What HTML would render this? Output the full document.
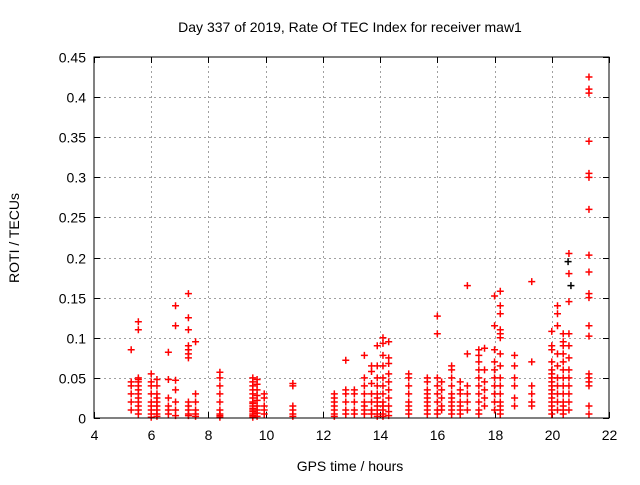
<!DOCTYPE html>
<html><head><meta charset="utf-8"><style>
body{margin:0;background:#fff}
svg text{font-family:"Liberation Sans",sans-serif;font-size:14px;fill:#000}
</style></head><body>
<svg id="chart" width="640" height="480" xmlns="http://www.w3.org/2000/svg">
<rect width="640" height="480" fill="#fff"/>
<text x="350" y="32" text-anchor="middle">Day 337 of 2019, Rate Of TEC Index for receiver maw1</text>
<text x="350" y="471" text-anchor="middle">GPS time / hours</text>
<text transform="translate(19,238) rotate(-90)" text-anchor="middle">ROTI / TECUs</text>
<g id="grid"></g><g id="ticks"></g><g id="marks"></g>
<rect x="94" y="57" width="515" height="361" fill="none" stroke="#000" stroke-width="1"/>
</svg>
<script>
const xTicks=[4,6,8,10,12,14,16,18,20,22];
const yTicks=[0,0.05,0.1,0.15,0.2,0.25,0.3,0.35,0.4,0.45];
const yTickLabels=["0","0.05","0.1","0.15","0.2","0.25","0.3","0.35","0.4","0.45"];
const columnTimes=[5.3,5.55,6.0,6.2,6.6,6.85,7.3,7.55,8.4,9.55,9.7,9.95,10.95,12.4,12.8,13.1,13.45,13.7,13.9,14.1,14.3,15.0,15.65,16.0,16.15,16.5,16.8,17.05,17.45,17.65,18.0,18.2,18.7,19.3,20.0,20.2,20.4,20.6,21.3];
const columnRoti=[
[0.085,0.04,0.03,0.02,0.01,0.045],
[0.12,0.11,0.05,0.045,0.04,0.035,0.03,0.025,0.02,0.015,0.01,0.005,0.048],
[0.055,0.045,0.04,0.03,0.02,0.015,0.01,0.005,0.001],
[0.048,0.04,0.03,0.025,0.02,0.015,0.01,0.005,0.002],
[0.082,0.048,0.025,0.015,0.01,0.005],
[0.14,0.115,0.047,0.035,0.02,0.01,0.003],
[0.155,0.125,0.11,0.09,0.085,0.08,0.075,0.02,0.015,0.01,0.005,0.003],
[0.095,0.03,0.02,0.01,0.005,0.002],
[0.057,0.05,0.04,0.03,0.02,0.01,0.005,0.003,0.001],
[0.05,0.045,0.04,0.035,0.03,0.025,0.02,0.018,0.015,0.012,0.01,0.008,0.005,0.003,0.001],
[0.048,0.042,0.035,0.028,0.022,0.015,0.01,0.006,0.002],
[0.03,0.025,0.015,0.01,0.005],
[0.043,0.04,0.015,0.01,0.005,0.002],
[0.03,0.025,0.02,0.015,0.01,0.005,0.002],
[0.072,0.035,0.03,0.02,0.01,0.005],
[0.035,0.03,0.02,0.01,0.005],
[0.078,0.05,0.04,0.03,0.02,0.015,0.01,0.005],
[0.065,0.058,0.043,0.03,0.02,0.01,0.005],
[0.09,0.065,0.05,0.04,0.03,0.025,0.02,0.015,0.01,0.005,0.002],
[0.1,0.093,0.078,0.065,0.05,0.04,0.03,0.02,0.015,0.01,0.005,0.002],
[0.095,0.075,0.068,0.055,0.045,0.035,0.025,0.015,0.008,0.003],
[0.055,0.05,0.04,0.03,0.02,0.015,0.01,0.005],
[0.05,0.045,0.035,0.03,0.025,0.02,0.015,0.01,0.005],
[0.127,0.105,0.05,0.04,0.03,0.02,0.01,0.005],
[0.045,0.035,0.025,0.015,0.01],
[0.065,0.06,0.05,0.04,0.03,0.025,0.02,0.015,0.01,0.005],
[0.045,0.035,0.03,0.02,0.015,0.01,0.005],
[0.165,0.08,0.04,0.03,0.02,0.01],
[0.085,0.078,0.07,0.06,0.05,0.04,0.03,0.02,0.01,0.005],
[0.087,0.06,0.045,0.035,0.025,0.015],
[0.152,0.115,0.085,0.07,0.06,0.05,0.04,0.03,0.02,0.01],
[0.158,0.14,0.13,0.11,0.105,0.1,0.08,0.065,0.05,0.04,0.03,0.02,0.015,0.01,0.005],
[0.078,0.065,0.05,0.04,0.025,0.015],
[0.17,0.07,0.04,0.03,0.02,0.015],
[0.108,0.09,0.085,0.07,0.06,0.055,0.05,0.045,0.04,0.035,0.03,0.025,0.02,0.015,0.01,0.005],
[0.14,0.13,0.115,0.08,0.065,0.05,0.04,0.03,0.02,0.01],
[0.105,0.095,0.09,0.08,0.07,0.06,0.05,0.04,0.03,0.02,0.015,0.01,0.005],
[0.205,0.18,0.145,0.105,0.09,0.075,0.06,0.05,0.04,0.03,0.02,0.01],
[0.425,0.41,0.405,0.345,0.305,0.3,0.26,0.203,0.182,0.155,0.15,0.115,0.102,0.055,0.05,0.045,0.04,0.015,0.005]];
const blackTimes=[20.6,20.5];
const blackRoti=[0.165,0.195];

const NS="http://www.w3.org/2000/svg";
const X0=94,X1=609,Y0=418,Y1=57;
function xs(v){return X0+(v-4)/(22-4)*(X1-X0);}
function ys(v){return Y0-(v-0)/0.45*(Y0-Y1);}
function mk(tag,attrs,parent){const e=document.createElementNS(NS,tag);for(const k in attrs)e.setAttribute(k,attrs[k]);parent.appendChild(e);return e;}
const grid=document.getElementById('grid'),ticks=document.getElementById('ticks'),marks=document.getElementById('marks');
xTicks.forEach(t=>{const x=Math.round(xs(t))+0.5;
 if(t>4&&t<22){const g=mk('line',{x1:x,x2:x,y1:Y0,y2:Y1,stroke:'#a0a0a0','stroke-dasharray':'2,3'},grid);
 
 }
 mk('line',{x1:x,x2:x,y1:Y0,y2:Y0-6,stroke:'#000'},ticks);
 mk('line',{x1:x,x2:x,y1:Y1,y2:Y1+6,stroke:'#000'},ticks);
 const l=mk('text',{x:x,y:Y0+22,'text-anchor':'middle'},ticks);l.textContent=t;
 
 });
yTicks.forEach((t,i)=>{const y=Math.round(ys(t))+0.5;
 if(i>0&&i<yTicks.length-1){const g=mk('line',{x1:X0,x2:X1,y1:y,y2:y,stroke:'#a0a0a0','stroke-dasharray':'2,3'},grid);
 
 }
 mk('line',{x1:X0,x2:X0+6,y1:y,y2:y,stroke:'#000'},ticks);
 mk('line',{x1:X1,x2:X1-6,y1:y,y2:y,stroke:'#000'},ticks);
 const l=mk('text',{x:X0-8,y:y+5,'text-anchor':'end'},ticks);l.textContent=yTickLabels[i];
 
 });
function plus(x,y,c){const p=mk('path',{d:`M${x-3.5} ${y}H${x+3.5}M${x} ${y-3.5}V${y+3.5}`,stroke:c,'stroke-width':1.5,fill:'none'},marks);return p;}
blackTimes.forEach((t,i)=>{const p=plus(xs(t)+2,ys(blackRoti[i]),'#000');
 
 });
columnTimes.forEach((t,i)=>{columnRoti[i].forEach(v=>{const p=plus(xs(t),ys(v),'#ff0000');
 
 });});
</script>
</body></html>
